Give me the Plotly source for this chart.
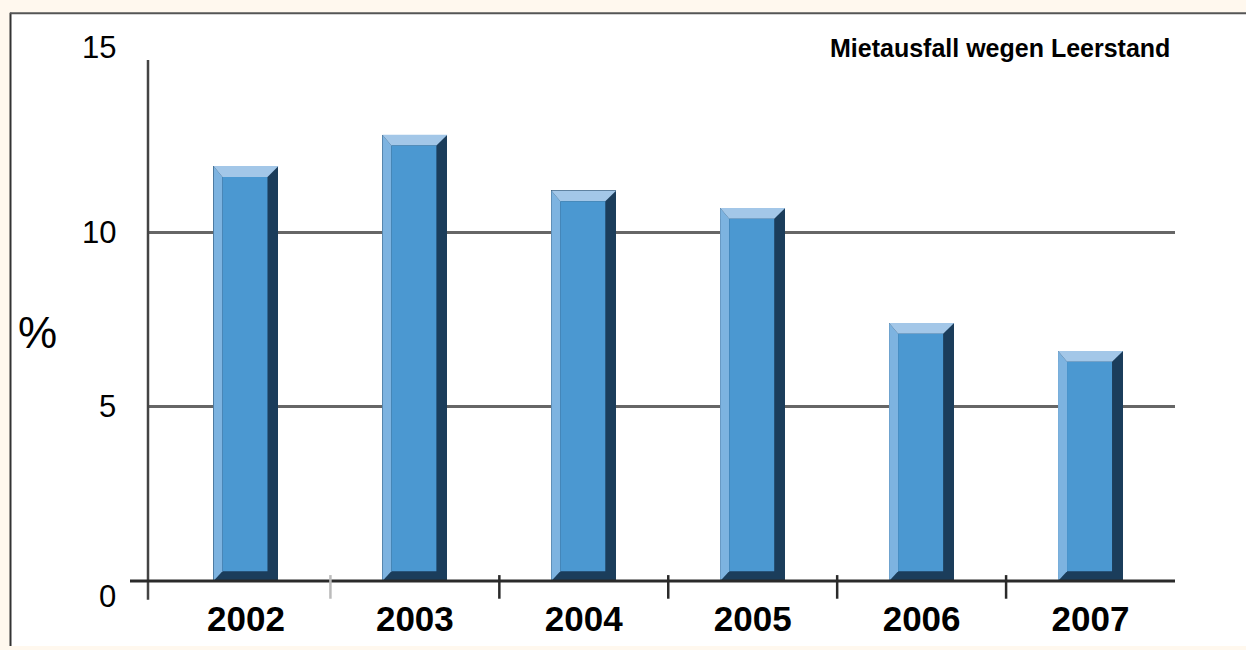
import plotly.graph_objects as go

# Mietausfall wegen Leerstand, 2002-2007 (in %)
years = ["2002", "2003", "2004", "2005", "2006", "2007"]
vacancy_loss = [11.9, 12.8, 11.2, 10.7, 7.4, 6.6]
y_tick_values = [0, 5, 10, 15]
y_tick_labels = ["0", "5", "10", "15"]
title_text = "Mietausfall wegen Leerstand"
y_title = "%"

# ---- layout geometry (pixels) ----
W, H = 1246, 650
L, R, T, B = 148, 71, 58, 61
PW, PH = W - L - R, H - T - B
Y_MAX = 15
X_LO, X_HI = -0.58, len(years) - 0.5
px_per_x = PW / (X_HI - X_LO)
px_per_y = PH / Y_MAX


def xp(px):
    """pixel x -> paper x"""
    return (px - L) / PW


def yp(py):
    """pixel y -> paper y"""
    return (H - B - py) / PH


# ---- colours ----
CREAM = "#FFF8EE"
FACE = "#4B98D1"
TOP_BEVEL = "#A3C7E8"
LEFT_BEVEL = "#7DB3E0"
DARK_BEVEL = "#1B3D5B"
GRID = "#666666"
AXIS = "#2A2A2A"
FONT = "Liberation Sans, Arial, sans-serif"

bar_width = 65 / px_per_x
bevel_l = 9 / px_per_x
bevel_r = 11 / px_per_x
bevel_t = 11 / px_per_y
bevel_b = 10 / px_per_y

fig = go.Figure()

# dark base of each bar (its right and bottom bevels stay visible)
fig.add_trace(go.Bar(
    x=list(range(len(years))),
    y=vacancy_loss,
    width=bar_width,
    marker=dict(color=DARK_BEVEL, line=dict(width=0)),
    hovertext=years,
    hovertemplate="%{hovertext}: %{y} %<extra></extra>",
))

shapes = []

# white card with a thin frame on top and left, cream outside
shapes.append(dict(type="rect", xref="paper", yref="paper",
                   x0=xp(10), x1=xp(W + 5), y0=yp(H + 5), y1=yp(12),
                   fillcolor="white", line=dict(width=0), layer="below"))
shapes.append(dict(type="line", xref="paper", yref="paper",
                   x0=xp(10.5), x1=xp(10.5), y0=yp(12), y1=yp(H + 5),
                   line=dict(color="#333333", width=2), layer="above"))
shapes.append(dict(type="line", xref="paper", yref="paper",
                   x0=xp(10), x1=xp(W + 5), y0=yp(12.5), y1=yp(12.5),
                   line=dict(color="#555555", width=2), layer="above"))

# bevelled faces on top of each bar
for i, v in enumerate(vacancy_loss):
    x0, x1 = i - bar_width / 2, i + bar_width / 2
    left = f"M {x0} 0 L {x0} {v} L {x0 + bevel_l} {v - bevel_t} L {x0 + bevel_l} {bevel_b} Z"
    top = f"M {x0} {v} L {x1} {v} L {x1 - bevel_r} {v - bevel_t} L {x0 + bevel_l} {v - bevel_t} Z"
    shapes.append(dict(type="path", xref="x", yref="y", path=left,
                       fillcolor=LEFT_BEVEL, line=dict(width=0), layer="above"))
    shapes.append(dict(type="path", xref="x", yref="y", path=top,
                       fillcolor=TOP_BEVEL, line=dict(width=0), layer="above"))
    shapes.append(dict(type="rect", xref="x", yref="y",
                       x0=x0 + bevel_l, x1=x1 - bevel_r, y0=bevel_b, y1=v - bevel_t,
                       fillcolor=FACE, line=dict(width=0), layer="above"))

# vertical axis line, running a bit below the baseline
shapes.append(dict(type="line", xref="paper", yref="paper",
                   x0=0, x1=0, y0=yp(H - B + 19), y1=yp(T + 2),
                   line=dict(color="#444444", width=2.5), layer="above"))
# baseline
shapes.append(dict(type="line", xref="paper", yref="paper",
                   x0=xp(130), x1=1, y0=0, y1=0,
                   line=dict(color=AXIS, width=3), layer="above"))
# divider ticks between the years
divider_colors = ["#BBBBBB", AXIS, AXIS, AXIS, AXIS]
for k, col in enumerate(divider_colors):
    shapes.append(dict(type="line", xref="x", yref="paper",
                       x0=k + 0.5, x1=k + 0.5, y0=yp(H - B + 18), y1=yp(H - B - 6),
                       line=dict(color=col, width=2.5), layer="above"))

annotations = []
# y tick labels (top and bottom labels sit slightly outside their gridline)
shift = {0: -15, 5: 0, 10: 0, 15: 11}
for val, lab in zip(y_tick_values, y_tick_labels):
    annotations.append(dict(xref="paper", yref="y", x=xp(118), y=val,
                            xanchor="right", yanchor="middle", yshift=shift[val],
                            text=lab, showarrow=False,
                            font=dict(family=FONT, size=31, color="black")))
# axis unit
annotations.append(dict(xref="paper", yref="paper", x=xp(37), y=yp(337),
                        xanchor="center", yanchor="middle", text=y_title,
                        showarrow=False, font=dict(family=FONT, size=44, color="black")))
# chart title
annotations.append(dict(xref="paper", yref="paper", x=xp(1172), y=yp(48),
                        xanchor="right", yanchor="middle", text=f"<b>{title_text}</b>",
                        showarrow=False, font=dict(family=FONT, size=25, color="black")))

fig.update_layout(
    width=W, height=H,
    margin=dict(l=L, r=R, t=T, b=B, pad=0),
    paper_bgcolor=CREAM,
    plot_bgcolor="rgba(0,0,0,0)",
    showlegend=False,
    bargap=0,
    shapes=shapes,
    annotations=annotations,
    xaxis=dict(
        range=[X_LO, X_HI],
        tickmode="array",
        tickvals=list(range(len(years))),
        ticktext=years,
        tickfont=dict(family=FONT, size=35, color="black", weight="bold"),
        ticks="",
        ticklabelstandoff=14,
        showgrid=False, showline=False, zeroline=False,
        fixedrange=True,
    ),
    yaxis=dict(
        range=[0, Y_MAX],
        tickmode="array",
        tickvals=[5, 10],
        showticklabels=False,
        showgrid=True, gridcolor=GRID, gridwidth=2.5,
        showline=False, zeroline=False,
        fixedrange=True,
    ),
)

fig.write_html("out.html")
